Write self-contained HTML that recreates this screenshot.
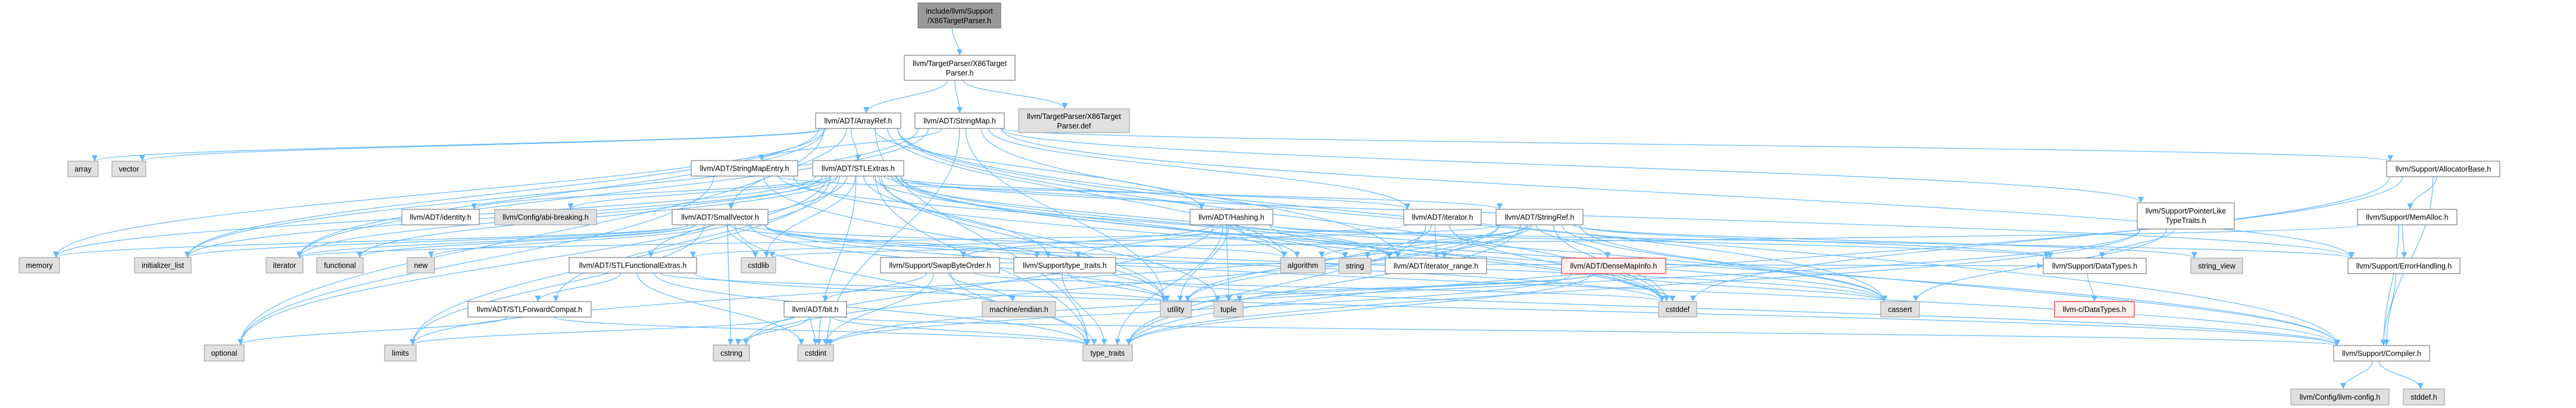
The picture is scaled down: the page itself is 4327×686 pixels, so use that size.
<!DOCTYPE html>
<html><head><meta charset="utf-8">
<style>
html,body{margin:0;padding:0;background:#fff;}
svg{display:block;}
text{font-family:"Liberation Sans",Helvetica,sans-serif;font-size:12.5px;fill:#000;}
</style></head>
<body>
<svg id="g" width="4327" height="686" viewBox="0 0 4327 686" xmlns="http://www.w3.org/2000/svg">
<defs>
<marker id="ah" viewBox="0 0 10 10" refX="10" refY="5" markerWidth="10" markerHeight="10" markerUnits="userSpaceOnUse" orient="auto">
<path d="M0,0 L10,5 L0,10 z" fill="#63b8ff"/>
</marker>
</defs>
<g id="edges" fill="none" stroke="#63b8ff" stroke-width="1.2"></g>
<g id="nodes">
<rect x="1542" y="5" width="139" height="42" fill="#999" stroke="#666"/>
<text x="1611.5" y="23" text-anchor="middle">include/llvm/Support</text><text x="1611.5" y="39" text-anchor="middle">/X86TargetParser.h</text>
<rect x="1519" y="93" width="186" height="42" fill="#fff" stroke="#666"/>
<text x="1612" y="111" text-anchor="middle">llvm/TargetParser/X86Target</text><text x="1612" y="127" text-anchor="middle">Parser.h</text>
<rect x="1711" y="183" width="186" height="40" fill="#e0e0e0" stroke="#999"/>
<text x="1804" y="200" text-anchor="middle">llvm/TargetParser/X86Target</text><text x="1804" y="216" text-anchor="middle">Parser.def</text>
<rect x="3590" y="341" width="163" height="44" fill="#fff" stroke="#666"/>
<text x="3671.5" y="359" text-anchor="middle">llvm/Support/PointerLike</text><text x="3671.5" y="375" text-anchor="middle">TypeTraits.h</text>
</g>
</svg>
<script>
var N={
ArrayRef:[1370,1513,190,216,"llvm/ADT/ArrayRef.h",0],
StringMap:[1537,1687,190,216,"llvm/ADT/StringMap.h",0],
StringMapEntry:[1161,1340,270,296,"llvm/ADT/StringMapEntry.h",0],
STLExtras:[1365,1518,270,296,"llvm/ADT/STLExtras.h",0],
array:[114,165,271,297,"array",1],
vector:[188,245,271,297,"vector",1],
AllocatorBase:[4009,4199,271,297,"llvm/Support/AllocatorBase.h",0],
identity:[675,805,352,378,"llvm/ADT/identity.h",0],
abi:[831,1002,352,378,"llvm/Config/abi-breaking.h",1],
SmallVector:[1129,1290,352,378,"llvm/ADT/SmallVector.h",0],
Hashing:[1999,2138,352,378,"llvm/ADT/Hashing.h",0],
iteratorh:[2358,2488,352,378,"llvm/ADT/iterator.h",0],
StringRef:[2513,2659,352,378,"llvm/ADT/StringRef.h",0],
MemAlloc:[3960,4127,352,378,"llvm/Support/MemAlloc.h",0],
memory:[32,100,433,459,"memory",1],
initializer_list:[226,321,433,459,"initializer_list",1],
iterator:[447,509,433,459,"iterator",1],
functional:[532,610,433,459,"functional",1],
"new":[684,730,433,459,"new",1],
STLFunctionalExtras:[956,1170,433,459,"llvm/ADT/STLFunctionalExtras.h",0],
cstdlib:[1245,1303,433,459,"cstdlib",1],
SwapByteOrder:[1479,1679,433,459,"llvm/Support/SwapByteOrder.h",0],
stypetraits:[1703,1874,433,459,"llvm/Support/type_traits.h",0],
algorithm:[2151,2226,433,459,"algorithm",1],
string:[2249,2303,434,460,"string",1],
iterator_range:[2327,2497,434,460,"llvm/ADT/iterator_range.h",0],
DenseMapInfo:[2623,2798,434,460,"llvm/ADT/DenseMapInfo.h",2],
DataTypes:[3432,3605,434,460,"llvm/Support/DataTypes.h",0],
string_view:[3680,3767,434,460,"string_view",1],
ErrorHandling:[3944,4132,434,460,"llvm/Support/ErrorHandling.h",0],
STLForwardCompat:[786,993,507,533,"llvm/ADT/STLForwardCompat.h",0],
bit:[1317,1422,507,533,"llvm/ADT/bit.h",0],
endian:[1650,1773,507,533,"machine/endian.h",1],
utility:[1949,2001,507,533,"utility",1],
tuple:[2039,2088,507,533,"tuple",1],
cstddef:[2786,2850,507,533,"cstddef",1],
cassert:[3159,3224,507,533,"cassert",1],
cDataTypes:[3451,3585,507,533,"llvm-c/DataTypes.h",2],
optional:[343,410,580,607,"optional",1],
limits:[646,699,580,607,"limits",1],
cstring:[1198,1259,580,607,"cstring",1],
cstdint:[1340,1400,580,607,"cstdint",1],
type_traits:[1819,1902,580,607,"type_traits",1],
Compiler:[3920,4081,581,607,"llvm/Support/Compiler.h",0],
llvmconfig:[3848,4013,654,681,"llvm/Config/llvm-config.h",1],
stddef:[4037,4106,654,681,"stddef.h",1],
root:[1542,1681,5,47,"",0],TP:[1519,1705,93,135,"",0],def:[1711,1897,183,223,"",1],PLTT:[3590,3753,341,385,"",0]
};
var E={
root:["TP"],TP:["ArrayRef","StringMap","def"],
ArrayRef:["STLExtras","SmallVector","Hashing","Compiler","array","vector","memory","initializer_list","iterator","optional","cassert","cstddef","type_traits","algorithm"],
StringMap:["StringMapEntry","AllocatorBase","PLTT","ErrorHandling","iterator","iteratorh","cstdint","initializer_list","utility","iterator_range"],
StringMapEntry:["StringRef","optional","utility","iterator_range","cstddef"],
STLExtras:["identity","abi","STLForwardCompat","STLFunctionalExtras","iteratorh","iterator_range","Hashing","algorithm","cassert","cstddef","cstdint","cstdlib","functional","initializer_list","iterator","limits","memory","optional","tuple","type_traits","utility","Compiler","stypetraits","ErrorHandling"],
SmallVector:["Compiler","type_traits","algorithm","cassert","cstddef","cstdlib","cstring","functional","initializer_list","iterator","limits","memory","new","utility","stypetraits"],
Hashing:["ErrorHandling","SwapByteOrder","stypetraits","DataTypes","algorithm","cassert","cstring","string","tuple","type_traits","utility"],
iteratorh:["iterator_range","cstddef","iterator","type_traits","utility"],
StringRef:["DenseMapInfo","STLFunctionalExtras","iterator_range","Compiler","algorithm","cassert","cstddef","cstring","limits","string","string_view","type_traits","utility","DataTypes"],
DenseMapInfo:["cassert","cstddef","cstdint","tuple","type_traits","utility"],
STLFunctionalExtras:["STLForwardCompat","cstdint","type_traits","utility","Compiler"],
STLForwardCompat:["optional","type_traits"],
SwapByteOrder:["bit","DataTypes","cstddef","cstdint","type_traits","endian"],
stypetraits:["Compiler","type_traits","utility"],
bit:["Compiler","cstdint","cstring","limits","type_traits"],
PLTT:["DataTypes","cassert","cstdint","type_traits"],
AllocatorBase:["Compiler","MemAlloc","cstddef","type_traits"],
MemAlloc:["Compiler","ErrorHandling","cstdlib"],
ErrorHandling:["Compiler"],DataTypes:["cDataTypes"],Compiler:["llvmconfig","stddef"]
};
var ns="http://www.w3.org/2000/svg",eg=document.getElementById("edges"),ng=document.getElementById("nodes");
function mk(t,a){var e=document.createElementNS(ns,t);for(var k in a)e.setAttribute(k,a[k]);return e;}
var cnt={};
for(var s in E){var a=N[s];E[s].forEach(function(t,i){var b=N[t];
 var scx=(a[0]+a[1])/2,tcx=(b[0]+b[1])/2,d;
 var off=((i%7)-3)*4;
 if(b[2]>a[3]+5){
   var sx=Math.max(a[0]+5,Math.min(a[1]-5,scx+(tcx-scx)*0.05+off)),sy=a[3];
   var tx=Math.max(b[0]+6,Math.min(b[1]-6,tcx+(scx-tcx)*0.08)),ty=b[2];
   var dy=ty-sy;
   d="M"+sx+","+sy+" C"+sx+","+(sy+dy*0.45)+" "+tx+","+(ty-dy*0.45)+" "+tx+","+ty;
 }else{
   var right=tcx>scx;
   var sx=right?a[1]:a[0],sy=(a[2]+a[3])/2+off*0.5;
   var tx=right?b[0]:b[1],ty=(b[2]+b[3])/2;
   var dx=tx-sx;
   d="M"+sx+","+sy+" C"+(sx+dx*0.4)+","+sy+" "+(tx-dx*0.4)+","+ty+" "+tx+","+ty;
 }
 eg.appendChild(mk("path",{d:d,"marker-end":"url(#ah)"}));
});}
for(var k in N){var n=N[k];if(!n[4])continue;
 var st=n[5]==1?["#e0e0e0","#999"]:n[5]==2?["#fff0f0","#ff0000"]:["#fff","#666"];
 ng.appendChild(mk("rect",{x:n[0],y:n[2],width:n[1]-n[0],height:n[3]-n[2],fill:st[0],stroke:st[1]}));
 var t=mk("text",{x:(n[0]+n[1])/2,y:(n[2]+n[3])/2+4.5,"text-anchor":"middle"});t.textContent=n[4];ng.appendChild(t);}
</script>
</body></html>
